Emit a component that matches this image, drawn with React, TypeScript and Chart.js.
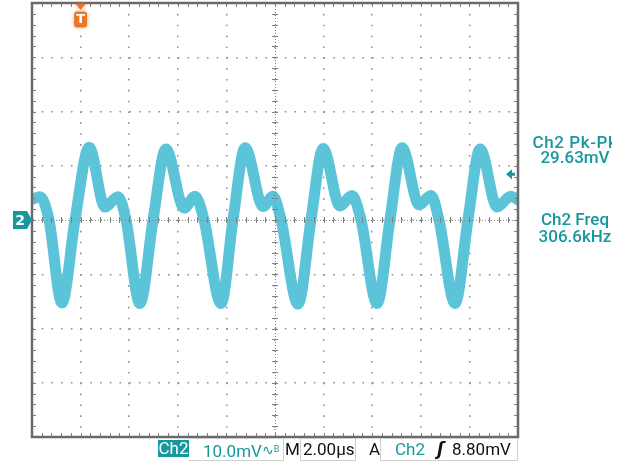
import { useEffect, useRef } from "react";
import { Chart, registerables } from "chart.js";
Chart.register(...registerables);

// Ch2 waveform key points (time in µs, voltage in mV)
const timeUs = [
  0.0, 0.33, 0.7, 1.23, 1.77,
  2.35, 3.0, 3.54, 3.87, 4.44, 4.98,
  5.51, 6.26, 6.71, 7.08, 7.78, 8.27,
  8.77, 9.51, 9.92, 10.25, 10.95, 11.48,
  11.98, 12.67, 13.17, 13.54, 14.2, 14.73,
  15.23, 15.93, 16.42, 16.75, 17.41, 17.94,
  18.44, 19.14, 19.71, 20.0,
];
const ch2mV = [
  3.8, 4.3, 0, -15.3, 0,
  13.4, 2.4, 4.3, 0, -15.4, 0,
  13.1, 2.2, 4.4, 0, -15.4, 0,
  13.3, 2.5, 4.4, 0, -15.5, 0,
  13.2, 2.6, 4.5, 0, -15.4, 0,
  13.3, 2.8, 4.5, 0, -15.4, 0,
  13.1, 2.4, 4.4, 3.7,
];

const xMinUs = 0;
const xMaxUs = 20;
const xDivUs = 2;
const yMinmV = -40;
const yMaxmV = 40;
const yDivmV = 10;
const minorPerDiv = 5;
const triggerTimeUs = 2.0;
const triggerLevelmV = 8.8;

const measureTitles = ["Ch2 Pk-Pk", "Ch2 Freq"];
const measureValues = ["29.63mV", "306.6kHz"];
const chLabel = "Ch2";
const vScaleLabel = "10.0mV";
const timeScaleLabel = "2.00µs";
const trigLevelLabel = "8.80mV";

const TRACE = "#5cc4d9";
const TEAL = "#17989c";
const ORANGE = "#e8782c";
const GRID = "#8e8e8e";

const scopePlugin = {
  id: "scopeDecor",
  afterDatasetsDraw(chart: any) {
    const { ctx, chartArea: a, scales } = chart;
    const x = scales.x;
    const y = scales.y;
    const line = (x1: number, y1: number, x2: number, y2: number) => {
      ctx.beginPath();
      ctx.moveTo(x1, y1);
      ctx.lineTo(x2, y2);
      ctx.stroke();
    };
    ctx.save();
    const xc = x.getPixelForValue((xMinUs + xMaxUs) / 2);
    const yc = y.getPixelForValue(0);
    // center lines (fine dotted)
    ctx.strokeStyle = "#858585";
    ctx.lineWidth = 1;
    ctx.setLineDash([1, 2]);
    line(a.left, Math.round(yc) + 0.5, a.right, Math.round(yc) + 0.5);
    line(Math.round(xc) + 0.5, a.top, Math.round(xc) + 0.5, a.bottom);
    ctx.setLineDash([]);
    // minor ticks
    ctx.strokeStyle = "#808080";
    const xStep = xDivUs / minorPerDiv;
    const nx = Math.round((xMaxUs - xMinUs) / xStep);
    for (let i = 0; i <= nx; i++) {
      const px = Math.round(x.getPixelForValue(xMinUs + i * xStep)) + 0.5;
      line(px, a.top, px, a.top + 4);
      line(px, a.bottom - 4, px, a.bottom);
      line(px, yc - 3, px, yc + 3);
    }
    const yStep = yDivmV / minorPerDiv;
    const ny = Math.round((yMaxmV - yMinmV) / yStep);
    for (let i = 0; i <= ny; i++) {
      const py = Math.round(y.getPixelForValue(yMinmV + i * yStep)) + 0.5;
      line(a.left, py, a.left + 4, py);
      line(a.right - 4, py, a.right, py);
      line(xc - 3, py, xc + 3, py);
    }
    // frame
    ctx.strokeStyle = "#6a6a6a";
    ctx.lineWidth = 2.5;
    ctx.strokeRect(a.left, a.top, a.right - a.left, a.bottom - a.top);

    // trigger position marker "T"
    const tx = x.getPixelForValue(triggerTimeUs);
    ctx.fillStyle = ORANGE;
    ctx.shadowColor = "rgba(240,150,80,0.7)";
    ctx.shadowBlur = 4;
    ctx.beginPath();
    ctx.moveTo(tx - 5, a.top + 1);
    ctx.lineTo(tx + 5, a.top + 1);
    ctx.lineTo(tx, a.top + 7);
    ctx.closePath();
    ctx.fill();
    ctx.beginPath();
    (ctx as any).roundRect(tx - 6.5, a.top + 8.5, 13, 16, 3);
    ctx.fill();
    ctx.shadowBlur = 0;
    ctx.fillStyle = "#ffffff";
    ctx.font = "bold 13px 'DejaVu Sans'";
    ctx.textAlign = "center";
    ctx.textBaseline = "middle";
    ctx.fillText("T", tx, a.top + 17);

    // channel ground marker "2"
    ctx.fillStyle = TEAL;
    ctx.beginPath();
    ctx.moveTo(a.left - 19, yc - 9);
    ctx.lineTo(a.left - 5, yc - 9);
    ctx.lineTo(a.left, yc);
    ctx.lineTo(a.left - 5, yc + 9);
    ctx.lineTo(a.left - 19, yc + 9);
    ctx.closePath();
    ctx.fill();
    ctx.fillStyle = "#ffffff";
    ctx.font = "bold 14px 'DejaVu Sans'";
    ctx.fillText("2", a.left - 12, yc + 1);

    // trigger level arrow
    const ty = y.getPixelForValue(triggerLevelmV) + 2;
    ctx.fillStyle = TEAL;
    ctx.beginPath();
    ctx.moveTo(a.right - 12, ty);
    ctx.lineTo(a.right - 6, ty - 5);
    ctx.lineTo(a.right - 6, ty + 5);
    ctx.closePath();
    ctx.fill();
    ctx.fillRect(a.right - 7, ty - 1.5, 4, 3);
    ctx.restore();
  },
};

const textFont = "Roboto, 'DejaVu Sans', sans-serif";

export default function App() {
  const ref = useRef<HTMLCanvasElement>(null);
  useEffect(() => {
    const chart = new Chart(ref.current!, {
      type: "line",
      data: {
        datasets: [
          {
            data: timeUs.map((t, i) => ({ x: t, y: ch2mV[i] })),
            borderColor: TRACE,
            borderWidth: 11,
            pointRadius: 0,
            cubicInterpolationMode: "monotone",
            borderCapStyle: "round",
            borderJoinStyle: "round",
            clip: 0,
          } as any,
        ],
      },
      options: {
        animation: false,
        responsive: false,
        events: [],
        layout: { padding: { left: 32, top: 3, right: 108, bottom: 29 } },
        plugins: { legend: { display: false }, tooltip: { enabled: false } },
        scales: {
          x: {
            type: "linear",
            min: xMinUs,
            max: xMaxUs,
            z: 1,
            ticks: { display: false, stepSize: xDivUs },
            grid: { color: GRID, lineWidth: 1.5, drawTicks: false },
            border: { display: false, dash: [1.6, 9.25] },
          },
          y: {
            type: "linear",
            min: yMinmV,
            max: yMaxmV,
            z: 1,
            ticks: { display: false, stepSize: yDivmV },
            grid: { color: GRID, lineWidth: 1.5, drawTicks: false },
            border: { display: false, dash: [1.6, 8.12] },
          },
        },
      } as any,
      plugins: [scopePlugin],
    });
    return () => chart.destroy();
  }, []);

  const box: React.CSSProperties = {
    position: "absolute",
    top: 438,
    height: 23,
    border: "1px solid #cfcfcf",
    boxSizing: "border-box",
  };
  const txt: React.CSSProperties = {
    position: "absolute",
    top: 439,
    fontFamily: textFont,
    fontSize: 17,
    lineHeight: "20px",
    whiteSpace: "nowrap",
  };

  return (
    <div
      style={{
        position: "fixed",
        left: 0,
        top: 0,
        width: 626,
        height: 466,
        background: "#ffffff",
        overflow: "hidden",
      }}
    >
      <canvas ref={ref} width={626} height={466} style={{ position: "absolute", left: 0, top: 0 }} />
      {/* right side measurements */}
      <div style={{ position: "absolute", left: 520, top: 0, width: 92, height: 466, overflow: "hidden" }}>
        {measureTitles.map((t, i) => (
          <div
            key={t}
            style={{
              position: "absolute",
              left: -45,
              width: 200,
              top: i === 0 ? 135 : 211,
              textAlign: "center",
              color: TEAL,
              fontFamily: textFont,
              fontSize: 17,
              fontWeight: 500,
              lineHeight: i === 0 ? "15px" : "17px",
            }}
          >
            <div style={{ letterSpacing: i === 0 ? "0.6px" : "0px" }}>{t}</div>
            <div>{measureValues[i]}</div>
          </div>
        ))}
      </div>
      {/* bottom status bar */}
      <div style={{ ...box, left: 189, width: 95, borderLeft: "none" }} />
      <div style={{ ...box, left: 300, width: 56 }} />
      <div style={{ ...box, left: 380, width: 138 }} />
      <div
        style={{
          position: "absolute",
          left: 158,
          top: 440,
          width: 31,
          height: 17,
          background: TEAL,
          color: "#fff",
          fontFamily: textFont,
          fontSize: 17,
          lineHeight: "17px",
          textAlign: "center",
        }}
      >
        {chLabel}
      </div>
      <div style={{ ...txt, left: 203, color: TEAL }}>
        {vScaleLabel}
        <span style={{ fontSize: 14, verticalAlign: "2px" }}>∿</span>
        <span style={{ fontSize: 9, verticalAlign: "5px" }}>B</span>
      </div>
      <div style={{ ...txt, left: 285, color: "#111" }}>M</div>
      <div style={{ ...txt, left: 303, color: "#111" }}>{timeScaleLabel}</div>
      <div style={{ ...txt, left: 369, color: "#111" }}>A</div>
      <div style={{ ...txt, left: 395, color: TEAL }}>{chLabel}</div>
      <div style={{ ...txt, left: 437, color: "#111", fontStyle: "italic", fontWeight: "bold" }}>ʃ</div>
      <div style={{ ...txt, left: 452, color: "#111" }}>{trigLevelLabel}</div>
    </div>
  );
}
